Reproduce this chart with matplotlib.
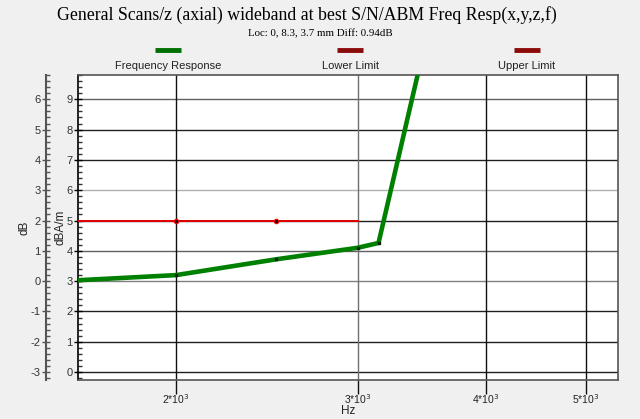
import matplotlib
matplotlib.use("Agg")
import matplotlib.pyplot as plt
from matplotlib.ticker import FixedLocator, MultipleLocator, NullFormatter

# data
freq_hz = [1606, 2000, 2500, 3000, 3144, 3500]
response_dbam = [3.03, 3.2, 3.72, 4.1, 4.26, 11.06]
limit_hz = [1606, 2000, 2500, 3000]
lower_limit = [5.0, 5.0, 5.0, 5.0]
upper_limit = [5.0, 5.0, 5.0, 5.0]
limit_marks_hz = [2000, 2500]
x_ticks = [2000, 3000, 4000, 5000]
x_labels = ["2*10$^3$", "3*10$^3$", "4*10$^3$", "5*10$^3$"]
x_range = (1606, 5370)
y_range = (-0.26, 9.8)
db_offset = 3

plt.rcParams["font.family"] = ["Liberation Sans", "DejaVu Sans"]
plt.rcParams["axes.unicode_minus"] = False

fig = plt.figure(figsize=(6.4, 4.19), dpi=100, facecolor="#f0f0f0")
ax = fig.add_axes([78 / 640, 39 / 419, 540 / 640, 305 / 419])
ax.set_facecolor("white")

ax.set_xscale("log")
ax.set_xlim(*x_range)
ax.set_ylim(*y_range)

# grid, drawn by hand so some lines can be lighter like the original
grid_colors = {6: "#b0b0b0", 4: "#606060", 9: "#606060", 3: "#808080"}
for v in range(0, 10):
    ax.axhline(v, color=grid_colors.get(v, "#202020"), lw=1.0, zorder=1)
for v in x_ticks:
    ax.axvline(v, color="#707070" if v == 3000 else "#101010", lw=1.0, zorder=1)

# limits
ax.plot(limit_hz, lower_limit, color="#e00000", lw=1.3, zorder=3, label="Lower Limit")
ax.plot(limit_hz, upper_limit, color="#e00000", lw=1.3, zorder=3, label="Upper Limit")
ax.plot(limit_marks_hz, [lower_limit[1], lower_limit[2]], "o", ms=3.2,
        mfc="#200000", mec="#ff0000", mew=0.8, zorder=4)

# response
ax.plot(freq_hz, response_dbam, color="#008000", lw=3.3, zorder=5,
        solid_capstyle="butt", label="Frequency Response")
ax.plot(freq_hz[1:5], response_dbam[1:5], "s", ms=1.5, color="#102010", zorder=6)

# axes cosmetics
for s in ax.spines.values():
    s.set_color("#555555")
    s.set_linewidth(1.2)
ax.spines["left"].set_color("#000000")

ax.xaxis.set_major_locator(FixedLocator(x_ticks))
ax.set_xticklabels(x_labels)
ax.xaxis.set_minor_formatter(NullFormatter())
ax.xaxis.set_minor_locator(FixedLocator([]))
ax.tick_params(axis="x", which="major", direction="out", length=10, width=1,
               color="#101010", labelsize=7.5, pad=-1, labelcolor="#222222")
ax.set_xlabel("Hz", fontsize=8.5, labelpad=-1, color="#222222")

ax.yaxis.set_major_locator(MultipleLocator(1))
ax.yaxis.set_minor_locator(MultipleLocator(0.2))
ax.tick_params(axis="y", which="major", direction="inout", length=6, width=1,
               labelsize=8, pad=1, labelcolor="#333333")
ax.tick_params(axis="y", which="minor", direction="in", length=3, width=1,
               color="#333333")
ax.set_ylabel("dBA/m", fontsize=8.5, color="#222222")
ax.yaxis.set_label_coords(-11 / 540, 0.5)

# second (dB) scale on the far left
ax2 = ax.twinx()
ax2.set_ylim(y_range[0] - db_offset, y_range[1] - db_offset)
ax2.yaxis.set_ticks_position("left")
ax2.yaxis.set_label_position("left")
ax2.spines["left"].set_position(("outward", 23))
ax2.spines["left"].set_color("#555555")
ax2.spines["left"].set_linewidth(1.5)
for side in ["right", "top", "bottom"]:
    ax2.spines[side].set_visible(False)
ax2.yaxis.set_major_locator(MultipleLocator(1))
ax2.yaxis.set_minor_locator(MultipleLocator(0.2))
ax2.tick_params(axis="y", which="major", direction="inout", length=6, width=1,
                labelsize=8, pad=1, labelcolor="#333333", color="#555555")
ax2.tick_params(axis="y", which="minor", direction="in", length=3, width=1,
                color="#555555")
ax2.set_ylabel("dB", fontsize=8.5, color="#222222")
ax2.yaxis.set_label_coords(-48 / 540, 0.5)

# titles
fig.text(0.48, 0.963, "General Scans/z (axial) wideband at best S/N/ABM Freq Resp(x,y,z,f)",
         ha="center", va="center", fontsize=12.8, family="Liberation Serif")
fig.text(0.5, 0.921, "Loc: 0, 8.3, 3.7 mm Diff: 0.94dB",
         ha="center", va="center", fontsize=7.8, family="Liberation Serif")

# legend: bars with text underneath
legend_items = [("Frequency Response", "#007000", 168),
                ("Lower Limit", "#8b0a0a", 350),
                ("Upper Limit", "#8b0a0a", 527)]
for text, color, xc in legend_items:
    fig.add_artist(plt.Line2D([(xc - 13) / 640, (xc + 13) / 640],
                              [1 - 50 / 419, 1 - 50 / 419],
                              color=color, lw=3.5, solid_capstyle="butt"))
    fig.text(xc / 640, 1 - 66 / 419, text, ha="center", va="center",
             fontsize=8, color="#222222")

fig.savefig("out.png", dpi=100, facecolor=fig.get_facecolor())
